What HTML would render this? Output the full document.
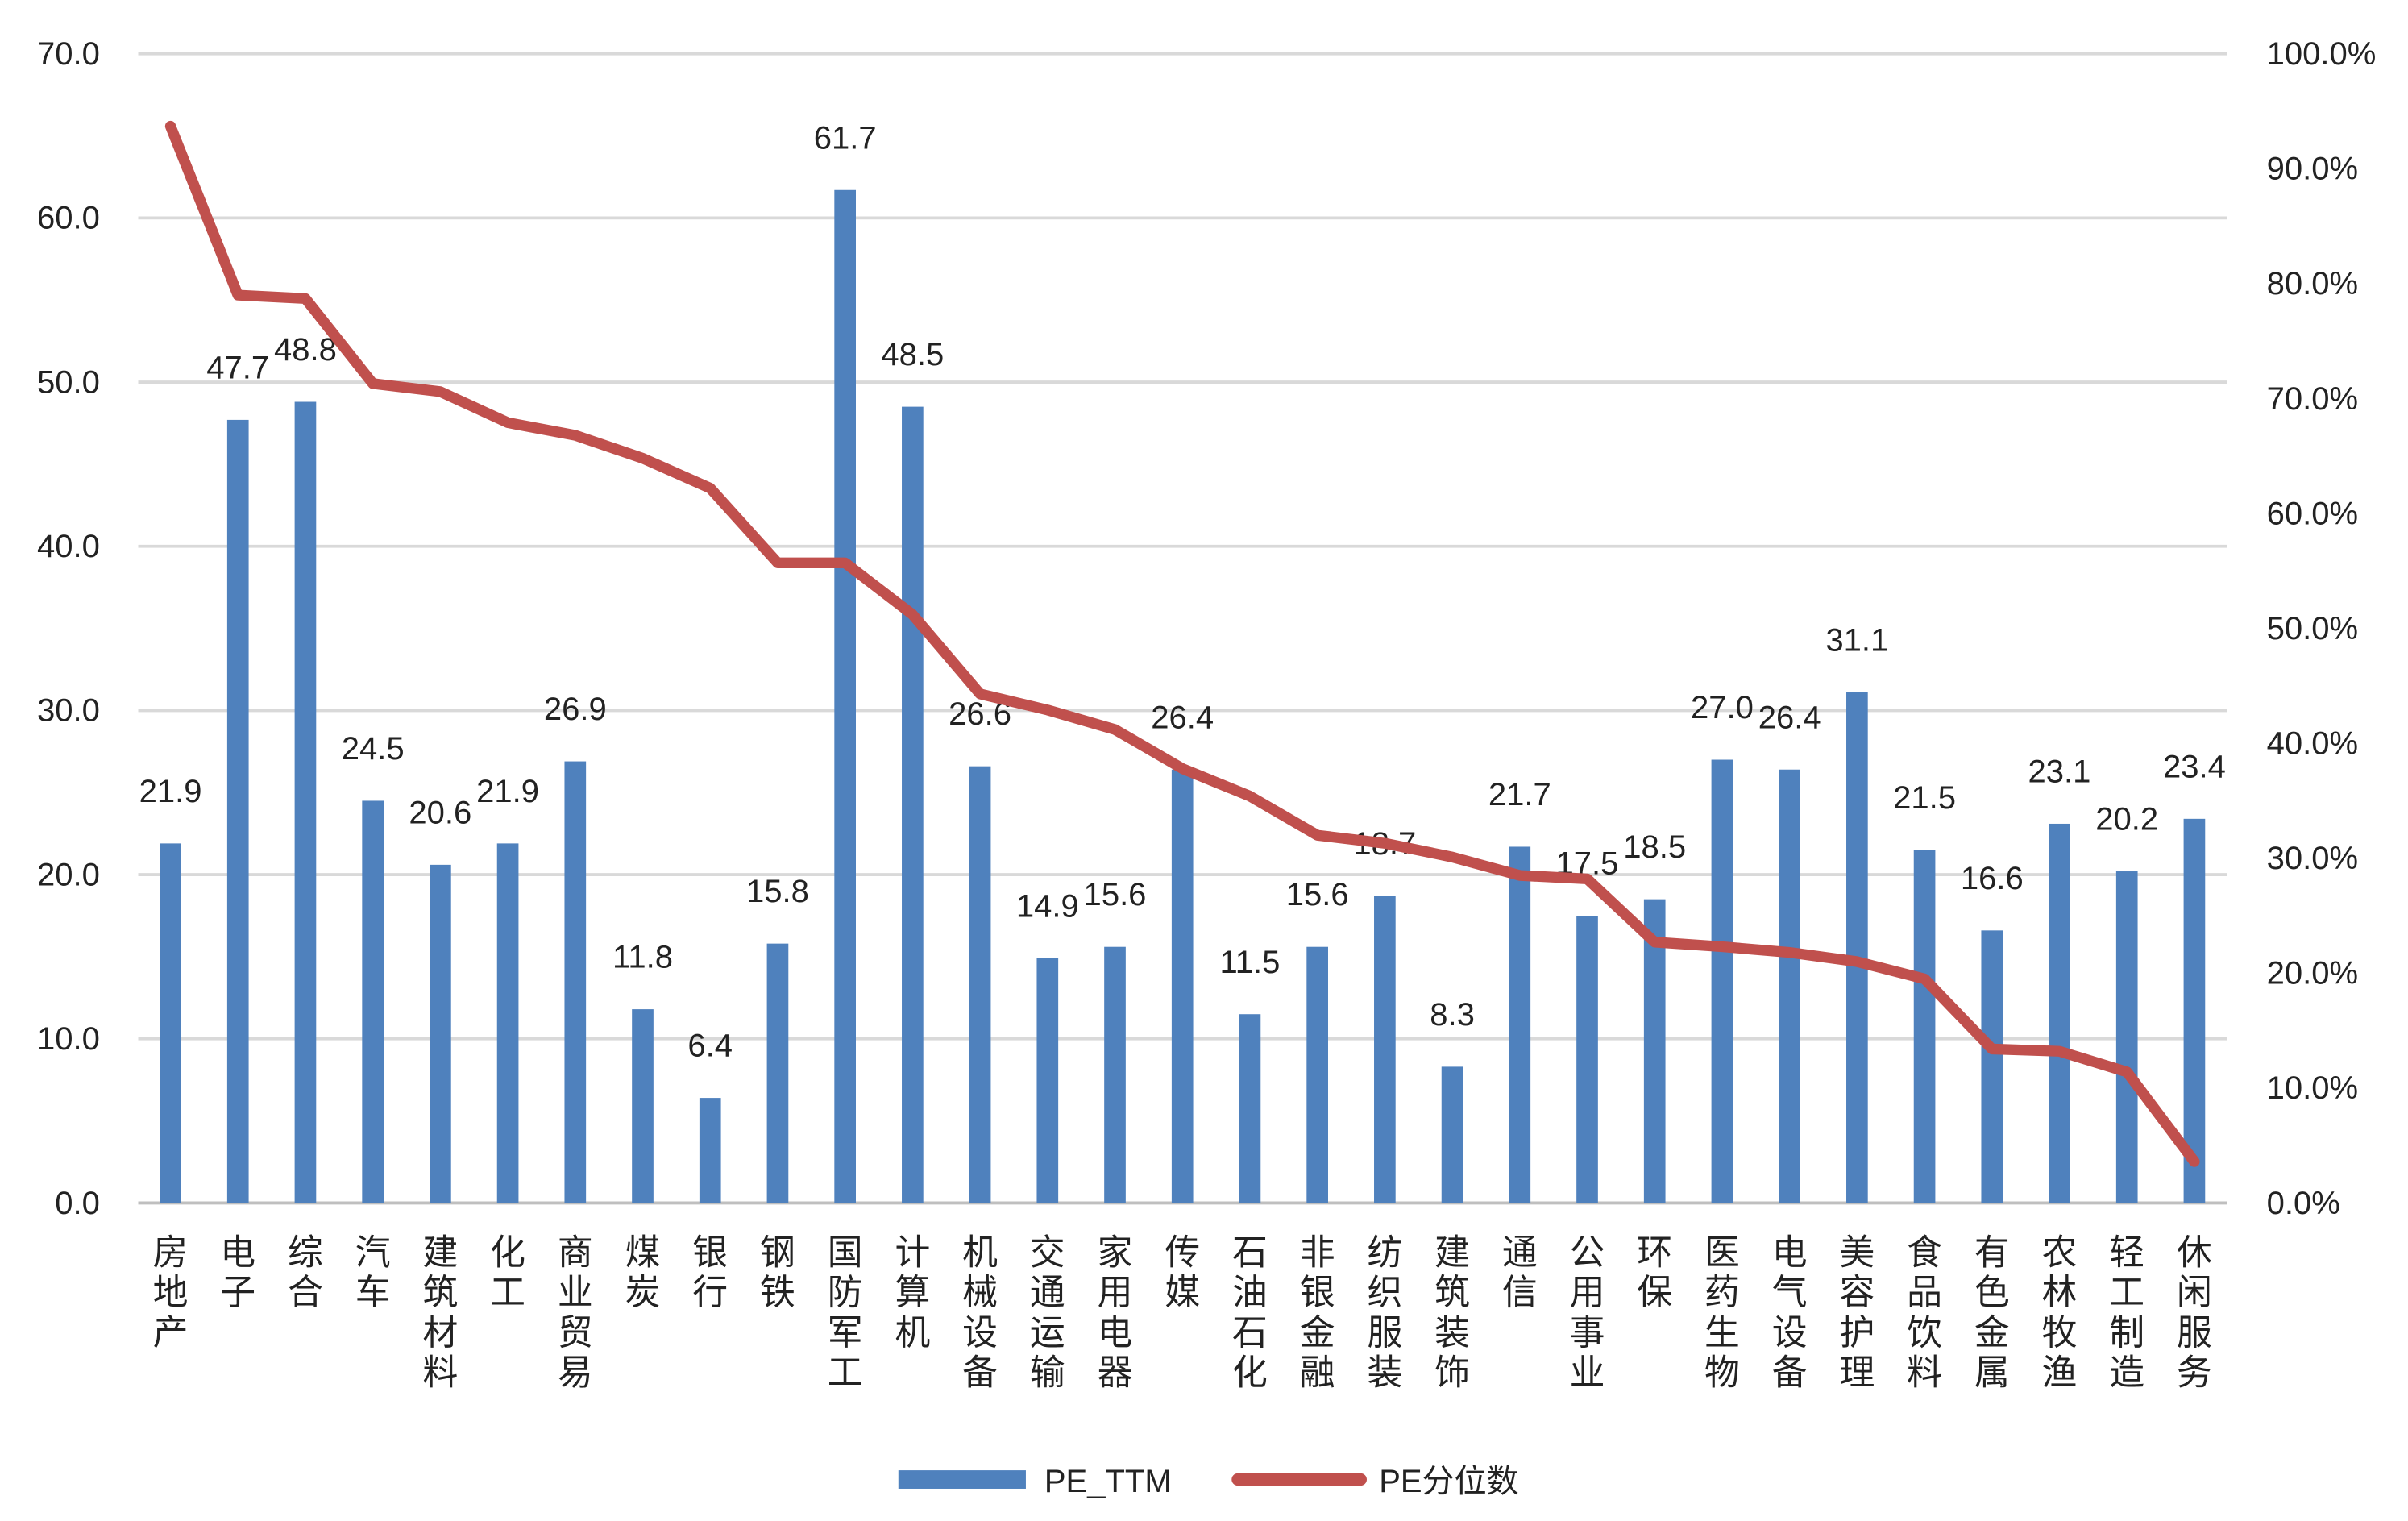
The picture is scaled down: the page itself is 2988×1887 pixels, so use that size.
<!DOCTYPE html>
<html><head><meta charset="utf-8"><style>
html,body{margin:0;padding:0;background:#fff;}
svg{display:block;font-family:"Liberation Sans","Noto Sans CJK SC",sans-serif;}
</style></head><body>
<svg id="chart" width="2988" height="1887" viewBox="0 0 1568 990" preserveAspectRatio="none" xmlns="http://www.w3.org/2000/svg"></svg>
<script>
const categories=["房地产","电子","综合","汽车","建筑材料","化工","商业贸易","煤炭","银行","钢铁","国防军工","计算机","机械设备","交通运输","家用电器","传媒","石油石化","非银金融","纺织服装","建筑装饰","通信","公用事业","环保","医药生物","电气设备","美容护理","食品饮料","有色金属","农林牧渔","轻工制造","休闲服务"];
const peValues=[21.9,47.7,48.8,24.5,20.6,21.9,26.9,11.8,6.4,15.8,61.7,48.5,26.6,14.9,15.6,26.4,11.5,15.6,18.7,8.3,21.7,17.5,18.5,27.0,26.4,31.1,21.5,16.6,23.1,20.2,23.4];
const pctValues=[93.7,79.0,78.7,71.3,70.6,67.9,66.8,64.8,62.2,55.7,55.7,51.2,44.3,42.9,41.2,37.8,35.4,32.0,31.3,30.1,28.5,28.2,22.7,22.3,21.8,21.0,19.5,13.4,13.2,11.4,3.6];
const leftTicks=[0,10,20,30,40,50,60,70];
const rightTicks=[0,10,20,30,40,50,60,70,80,90,100];
const NS="http://www.w3.org/2000/svg";
const svg=document.getElementById('chart');
const X0=90,X1=1450,Y0=783,YT=35;
const yL=v=>Y0-(v/70)*(Y0-YT);
const yR=v=>Y0-(v/100)*(Y0-YT);
const step=43.93;
const xC=i=>111+i*step;
function mk(tag,attrs){const e=document.createElementNS(NS,tag);for(const k in attrs)e.setAttribute(k,attrs[k]);svg.appendChild(e);return e;}
leftTicks.forEach(t=>{
  const g=mk('line',{x1:X0,x2:X1,y1:yL(t),y2:yL(t),stroke:t===0?'#bfbfbf':'#d9d9d9','stroke-width':2});
  
  
  const l=mk('text',{x:65,y:yL(t)+7,'text-anchor':'end','font-size':21,fill:'#222'});
  l.textContent=t.toFixed(1);
  
  
});
rightTicks.forEach(t=>{
  const l=mk('text',{x:1476,y:yR(t)+7,'font-size':21,fill:'#222'});
  l.textContent=t.toFixed(1)+'%';
  
  
});
categories.forEach((c,i)=>{
  const v=peValues[i];
  const b=mk('rect',{x:xC(i)-7,y:yL(v),width:14,height:Y0-yL(v),fill:'#4F81BD'});
  
  
  const t=mk('text',{x:xC(i),y:yL(v)-27,'text-anchor':'middle','font-size':21,fill:'#222'});
  t.textContent=v.toFixed(1);
  
  
  [...c].forEach((ch,j)=>{
    const ct=mk('text',{x:xC(i),y:823+j*26,'text-anchor':'middle','font-size':23,fill:'#222'});
    ct.textContent=ch;
    
    
  });
});
const pts=pctValues.map((v,i)=>xC(i)+','+yR(v)).join(' ');
const pl=mk('polyline',{points:pts,fill:'none',stroke:'#C0504D','stroke-width':7,'stroke-linejoin':'round','stroke-linecap':'round'});


const lr=mk('rect',{x:585,y:957,width:83,height:12,fill:'#4F81BD'});


const lt1=mk('text',{x:680,y:971,'font-size':21,fill:'#222'});
lt1.textContent='PE_TTM';


const ll=mk('line',{x1:806,x2:886,y1:963,y2:963,stroke:'#C0504D','stroke-width':8,'stroke-linecap':'round'});


const lt2=mk('text',{x:898,y:971,'font-size':21,fill:'#222'});
lt2.textContent='PE分位数';


</script>
</body></html>
